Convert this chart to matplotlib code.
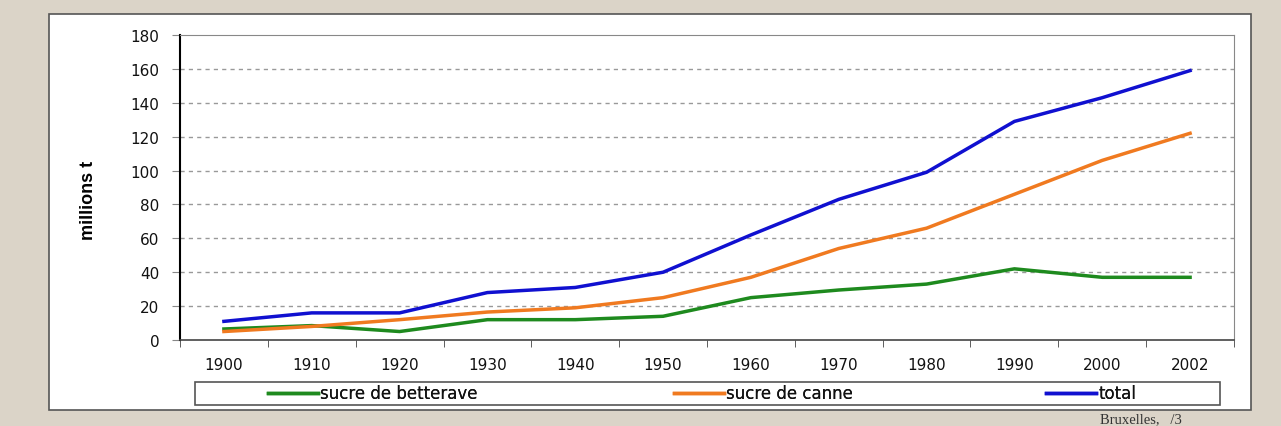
import matplotlib
matplotlib.use("Agg")
import matplotlib.pyplot as plt
from matplotlib.patches import Rectangle
import numpy as np

years = ["1900", "1910", "1920", "1930", "1940", "1950", "1960", "1970", "1980", "1990", "2000", "2002"]
betterave = [6.5, 8.5, 5, 12, 12, 14, 25, 29.5, 33, 42, 37, 37]
canne = [5, 8, 12, 16.5, 19, 25, 37, 54, 66, 86, 106, 122]
total = [11, 16, 16, 28, 31, 40, 62, 83, 99, 129, 143, 159]
y_ticks = [0, 20, 40, 60, 80, 100, 120, 140, 160, 180]

plt.rcParams['font.family'] = ['DejaVu Sans']

W, H = 1281, 427
fig = plt.figure(figsize=(W / 100, H / 100), dpi=100)
fig.patch.set_facecolor('#dbd4c8')

# white panel
panel = Rectangle((49 / W, 1 - 411 / H), (1251 - 49) / W, (411 - 15) / H,
                  transform=fig.transFigure, facecolor='white', edgecolor='#555555',
                  linewidth=1.2, zorder=-10)
fig.patches.append(panel)

# legend box
lbox = Rectangle((195 / W, 1 - 406 / H), (1220 - 195) / W, 23 / H,
                 transform=fig.transFigure, facecolor='white', edgecolor='#555555',
                 linewidth=1.2, zorder=-5)
fig.patches.append(lbox)

ax = fig.add_axes([180 / W, 1 - 341 / H, (1234 - 180) / W, (341 - 36) / H])
ax.set_facecolor('white')
x = np.arange(len(years))
l1, = ax.plot(x, betterave, color='#1e8a1e', lw=2.5, label='sucre de betterave')
l2, = ax.plot(x, canne, color='#f07a20', lw=2.5, label='sucre de canne')
l3, = ax.plot(x, total, color='#1010d0', lw=2.5, label='total')

ax.set_xlim(-0.5, len(years) - 0.5)
ax.set_ylim(0, 180)
ax.set_yticks(y_ticks)
ax.set_yticklabels([str(v) for v in y_ticks], fontsize=11, color='#111111')
ax.set_xticks(x)
ax.set_xticklabels(years, fontsize=11, color='#111111')
ax.tick_params(axis='x', which='major', length=0, pad=12)
ax.set_xticks(np.arange(-0.5, len(years), 1), minor=True)
ax.tick_params(axis='x', which='minor', length=5, color='#444444', direction='out')
ax.tick_params(axis='y', length=6, color='#888888', pad=9)
for t in y_ticks[1:-1]:
    ax.axhline(t, color='#999999', lw=1, ls=(0, (3, 3)), zorder=0)

ax.spines['left'].set_color('black')
ax.spines['left'].set_linewidth(1.5)
ax.spines['bottom'].set_color('#444444')
ax.spines['bottom'].set_linewidth(1.2)
ax.spines['top'].set_color('#888888')
ax.spines['right'].set_color('#888888')

fig.text(88 / W, 1 - 200 / H, 'millions t', rotation=90, ha='center', va='center',
         fontsize=13, fontweight='bold', fontstretch='condensed',
         family=['Liberation Sans Narrow', 'Liberation Sans', 'DejaVu Sans'])

# three legend entries placed inside the shared box
for handle, x0 in [(l1, 268), (l2, 674), (l3, 1046)]:
    lg = fig.legend(handles=[handle], loc='center left',
                    bbox_to_anchor=(x0 / W, 1 - 394.5 / H), frameon=False,
                    fontsize=12, handlelength=3.0, handletextpad=0.15,
                    borderpad=0, borderaxespad=0, labelcolor='#111111')
    fig.add_artist(lg)

fig.text(1100 / W, 1 - 420 / H, 'Bruxelles,   /3', ha='left', va='center',
         fontsize=10.5, family=['Liberation Serif', 'DejaVu Serif'], color='#333333')

fig.savefig('out.png', dpi=100, facecolor=fig.get_facecolor())
